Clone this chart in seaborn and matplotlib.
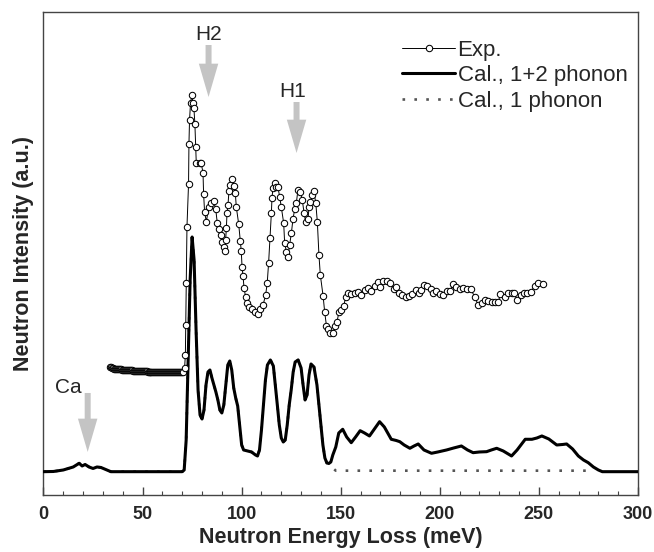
import numpy as np
import pandas as pd
import matplotlib
matplotlib.use("Agg")
import matplotlib.pyplot as plt
import seaborn as sns

# ---------------------------------------------------------
# DATA (y in arbitrary units)
# ---------------------------------------------------------
# flat, densely sampled part of the measurement (33.5 - 70 meV, 0.5 meV steps)
flat_x = list(np.arange(33.5, 70.01, 0.5))
flat_y = [128, 127.5, 127, 126.5, 126, 126, 126, 126,
          125.5, 125.5, 125.5, 125.5, 125, 125, 125, 125,
          125, 124.5, 124.5, 124.5, 124.5, 124.5, 124.5, 124,
          124, 124, 124, 124, 124, 124, 123.5, 123.5,
          123.5, 123.5, 123.5, 123.5, 123.5, 123.5, 123, 123,
          123, 123, 123, 123, 123, 123, 123, 123,
          123, 123, 122.5, 122.5, 122.5, 122.5, 122.5, 122.5,
          122.5, 122.5, 122.5, 122.5, 122.5, 123, 123, 123,
          123, 123, 123, 123, 123, 123, 123, 123,
          123, 123]

exp_x = [70.3, 71.2, 71.6, 71.8, 72.1, 72.4, 73.2, 73.4, 73.7, 74.2, 74.9, 75.4, 75.9,
         76.4, 76.8, 77.1, 78.8, 79.6, 80.5, 80.8, 81.3, 82.2, 83.3, 84.7, 85.9, 86.9,
         87.7, 88.5, 89.7, 90.2, 90.9, 91.4, 91.9, 92.3, 92.6, 93.1, 93.6, 94.3, 94.9,
         96.0, 96.8, 97.3, 98.5, 99.3, 99.8, 100.2, 100.7, 101.2, 102.0, 102.7, 103.7,
         105.2, 106.6, 108.2, 109.4, 110.8, 112.1, 112.9, 113.6, 114.3, 115.0, 115.3,
         115.8, 116.8, 117.5, 118.3, 119.2, 120.0, 121.2, 121.7, 122.6, 123.4, 124.2,
         125.1, 125.9, 126.8, 127.6, 128.4, 129.6, 130.6, 131.5, 132.3, 133.5, 134.0,
         134.7, 135.7, 136.4, 137.4, 138.2, 139.0, 139.7, 141.1, 141.9, 142.8, 143.6,
         144.8, 146.1, 147.0, 148.1, 149.1, 150.3, 151.5, 152.5, 153.7, 155.4, 157.1,
         158.7, 160.4, 162.1, 163.8, 165.5, 167.2, 168.8, 170.0, 171.4, 173.4, 175.1,
         176.8, 178.1, 179.4, 181.1, 182.8, 184.5, 186.2, 187.9, 189.5, 190.7, 191.9,
         193.6, 195.3, 196.6, 198.3, 200.0, 201.7, 203.4, 205.1, 206.7, 208.4, 210.1,
         211.8, 213.5, 215.5, 217.7, 219.3, 221.1, 222.7, 224.4, 226.1, 227.8, 229.5,
         230.6, 232.8, 234.5, 236.2, 237.4, 239.0, 240.8, 242.4, 244.1, 245.8, 248.0,
         249.6, 252.2]
exp_y = [123, 127, 140, 170, 212, 268, 311, 351, 375, 392, 400, 392, 387,
         371, 348, 332, 332, 332, 322, 301, 283, 273, 288, 292, 294, 286,
         272, 266, 260, 253, 248, 244, 255, 267, 282, 290, 304, 310, 316,
         309, 302, 288, 271, 254, 244, 228, 219, 207, 198, 192, 188,
         186, 183, 181, 186, 190, 200, 212, 232, 257, 282, 297,
         307, 312, 308, 308, 298, 288, 272, 252, 243, 238, 250,
         262, 276, 286, 292, 305, 303, 295, 282, 273, 276, 288,
         293, 300, 304, 292, 273, 240, 220, 199, 183, 169, 166,
         162, 162, 169, 173, 183, 185, 189, 198, 202, 201, 202,
         203, 200, 205, 207, 204, 209, 213, 208, 214, 214, 212,
         206, 208, 202, 200, 198, 199, 201, 205, 202, 205, 210,
         209, 206, 202, 204, 201, 200, 204, 204, 211, 208, 206,
         207, 206, 206, 198, 190, 192, 195, 194, 193, 193, 193,
         201, 198, 202, 202, 202, 195, 200, 202, 202, 203, 209,
         212, 211]

calc_x = [0, 5, 10, 15, 18, 19.5, 21, 23, 25, 27, 29, 32, 34, 50, 70,
          71, 72, 73, 74, 75, 76, 77, 78, 79, 80,
          81, 82, 83, 84, 85, 86, 87, 88, 89, 90,
          91, 92, 93, 94, 95, 96, 97, 98, 99, 100,
          101, 103, 105, 107, 108, 109, 110, 111, 112, 113,
          114.5, 116, 117, 118, 119, 120, 121, 122, 123, 124,
          125, 126, 127, 128.5, 130, 131, 132, 133, 134, 135,
          136.5, 138, 139, 140, 141, 142, 143, 144, 145, 146,
          147.5, 149, 151, 153, 155.3, 157.5, 159.8, 162, 164.5, 167,
          169.6, 172, 175.5, 178, 179.8, 182, 184.9, 187, 189.1, 192,
          195.8, 199, 203.4, 207, 210.9, 214, 216.8, 220, 223.6, 226,
          228.7, 232, 236.2, 239, 243.1, 246.5, 249, 251.5, 255, 259,
          262, 264, 267, 269.9, 272.5, 274.9, 277.5, 280, 282, 300]
calc_y = [23.3, 23.5, 25, 28, 31.7, 29, 30.5, 28, 26.5, 28, 27.5, 25, 23.3, 23.3, 23.3,
          25, 55, 135, 215, 258, 235, 165, 105, 80, 76,
          85, 110, 123, 125, 117, 110, 103, 95, 85, 82,
          90, 110, 130, 134, 125, 107, 97, 89, 70, 50,
          45, 44, 43, 40, 39, 45, 65, 90, 115, 130,
          135, 129, 110, 90, 70, 57, 53, 55, 70, 90,
          105, 123, 133, 135, 127, 110, 95, 100, 120, 131,
          128, 110, 90, 70, 50, 37, 32, 31.5, 33, 40,
          48, 62, 65.7, 58, 52.3, 58, 64.3, 62, 59, 66,
          73.3, 68, 55.7, 54.5, 53.3, 50, 46.7, 49, 51, 45,
          41.7, 43, 45, 47, 49, 45, 42.3, 43, 43.3, 45,
          46.7, 44, 39, 45, 55.7, 55.7, 57, 59, 56, 50,
          50.5, 51, 46, 39, 35, 32.3, 28, 25, 23.3, 23.3]

# 1 phonon: same as the 1+2 curve up to ~143 meV, then on the baseline
onep_x = calc_x[:82] + [147.5, 275]
onep_y = calc_y[:82] + [24.3, 24.3]

# annotations: label, x (meV), arrow top, arrow tip, label centre
arrow_labels = ["H2", "H1", "Ca"]
arrow_x = [83.3, 127.7, 22.3]
arrow_top = [450, 393, 102]
arrow_tip = [398, 342, 43]
label_pos = [(83.3, 461), (125.8, 404), (12.3, 107)]

# ---------------------------------------------------------
# PLOT
# ---------------------------------------------------------
sns.set_style("ticks")
plt.rcParams["font.family"] = ["Liberation Sans", "DejaVu Sans"]

fig = plt.figure(figsize=(6.54, 5.52), dpi=100)
ax = fig.add_axes([0.0665, 0.1033, 0.909, 0.8744])

exp_df = pd.DataFrame({"E": flat_x + exp_x, "I": flat_y + exp_y})
calc_df = pd.DataFrame({"E": calc_x, "I": calc_y})
onep_df = pd.DataFrame({"E": onep_x, "I": onep_y})

sns.lineplot(data=onep_df, x="E", y="I", ax=ax, color="#555555", lw=1.9,
             linestyle=(0, (1, 3.5)), label="Cal., 1 phonon", zorder=2)
sns.lineplot(data=calc_df, x="E", y="I", ax=ax, color="black", lw=2.2,
             label="Cal., 1+2 phonon", zorder=3)
sns.lineplot(data=exp_df, x="E", y="I", ax=ax, color="black", lw=0.7,
             marker="o", markersize=4.6, markerfacecolor="white",
             markeredgecolor="black", markeredgewidth=0.75,
             label="Exp.", zorder=4)

for lab, xa, yt, yp, (tx, ty) in zip(arrow_labels, arrow_x, arrow_top, arrow_tip, label_pos):
    ax.annotate("", xy=(xa, yp), xytext=(xa, yt),
                arrowprops=dict(arrowstyle="simple,head_length=24,head_width=14,tail_width=4.3",
                                mutation_scale=1, color="#c4c4c4", lw=0,
                                shrinkA=0, shrinkB=0), zorder=5)
    ax.text(tx, ty, lab, ha="center", va="center", fontsize=15)

ax.set_xlim(0, 300)
ax.set_ylim(0, 482.7)
ax.set_xticks(np.arange(0, 301, 50))
ax.set_xticks(np.arange(0, 301, 10), minor=True)
ax.set_yticks([])
ax.tick_params(axis="x", which="major", direction="in", length=6, width=1,
               pad=8, labelsize=13, color="#444444")
ax.tick_params(axis="x", which="minor", direction="in", length=3, width=0.8,
               color="#444444")
for lbl in ax.get_xticklabels():
    lbl.set_fontweight("bold")
for sp in ax.spines.values():
    sp.set_visible(True)
    sp.set_color("#444444")
    sp.set_linewidth(1.0)

ax.set_xlabel("Neutron Energy Loss (meV)", fontsize=15.5, fontweight="bold", labelpad=3)
ax.set_ylabel("Neutron Intensity (a.u.)", fontsize=15.5, fontweight="bold", labelpad=7)

h, l = ax.get_legend_handles_labels()
order = [l.index("Exp."), l.index("Cal., 1+2 phonon"), l.index("Cal., 1 phonon")]
ax.legend([h[i] for i in order], [l[i] for i in order], loc="upper left",
          bbox_to_anchor=(0.603, 0.943), frameon=False, fontsize=16,
          handlelength=2.4, handletextpad=0.1, labelspacing=0.2,
          borderpad=0, borderaxespad=0)

fig.savefig("out.png", dpi=100)
